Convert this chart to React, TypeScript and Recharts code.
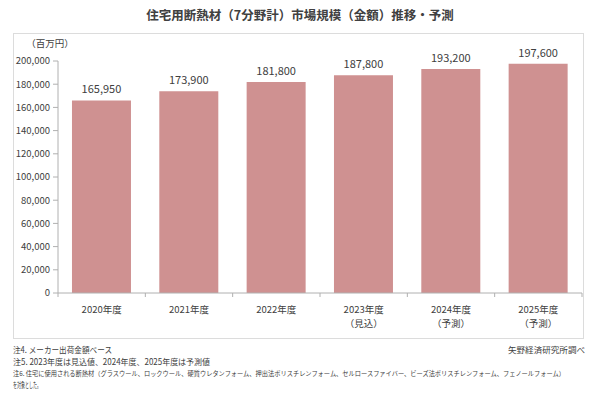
import { BarChart, Bar, XAxis, YAxis, LabelList } from "recharts";

const years = ["2020年度", "2021年度", "2022年度", "2023年度", "2024年度", "2025年度"];
const notes = ["", "", "", "（見込）", "（予測）", "（予測）"];
const sales = [165950, 173900, 181800, 187800, 193200, 197600];
const yTicks = [0, 20000, 40000, 60000, 80000, 100000, 120000, 140000, 160000, 180000, 200000];

const data = years.map((name, i) => ({ name, note: notes[i], sales: sales[i] }));

const FONT = "'Noto Sans CJK JP', 'Noto Sans', sans-serif";
const BAR = "#cf9191";
const TXT = "#404040";
const AXIS = "#b0b0b0";
const HALF_BAND = (582 - 58) / 12;

const fmt = (v: any) => Number(v).toLocaleString("en-US");

const XTick = (props: any) => {
  const { x, y, payload, index } = props;
  const note = notes[index];
  return (
    <g>
      <line x1={x - HALF_BAND} x2={x - HALF_BAND} y1={y - 8} y2={y - 4} stroke={AXIS} />
      {index === years.length - 1 && (
        <line x1={x + HALF_BAND} x2={x + HALF_BAND} y1={y - 8} y2={y - 4} stroke={AXIS} />
      )}
      <text x={x} y={y + 12} textAnchor="middle" fontSize={9.5} fill={TXT} fontFamily={FONT}>
        {payload.value}
      </text>
      {note && (
        <text x={x} y={y + 26} textAnchor="middle" fontSize={9.5} fill={TXT} fontFamily={FONT}>
          {note}
        </text>
      )}
    </g>
  );
};

const note4 = "注4. メーカー出荷金額ベース";
const note5 = "注5. 2023年度は見込値、2024年度、2025年度は予測値";
const note6 =
  "注6. 住宅に使用される断熱材（グラスウール、ロックウール、硬質ウレタンフォーム、押出法ポリスチレンフォーム、セルロースファイバー、ビーズ法ポリスチレンフォーム、フェノールフォーム）";
const note6b = "を対象とした。";
const source = "矢野経済研究所調べ";

const noteStyle = { fontSize: 8.5, fill: TXT, fontFamily: FONT };

export default function App() {
  return (
    <div style={{ position: "absolute", left: 0, top: 0, width: 600, height: 395, background: "#fff" }}>
      <div
        style={{
          position: "absolute",
          left: 13,
          top: 33,
          width: 571,
          height: 306,
          border: "1px solid #dcdcdc",
          boxSizing: "border-box",
        }}
      />
      <BarChart
        width={600}
        height={395}
        data={data}
        margin={{ top: 61, right: 18, left: 8, bottom: 62 }}
        barCategoryGap="16%"
        style={{ position: "absolute", left: 0, top: 0 }}
      >
        <text x={300} y={20} textAnchor="middle" fontSize={12.5} fontWeight="bold" fill={TXT} fontFamily={FONT}>
          住宅用断熱材（7分野計）市場規模（金額）推移・予測
        </text>
        <text x={50} y={47} textAnchor="middle" fontSize={9.5} fill={TXT} fontFamily={FONT}>
          （百万円）
        </text>
        <XAxis
          dataKey="name"
          tickLine={false}
          axisLine={{ stroke: AXIS }}
          tick={<XTick />}
          interval={0}
          height={40}
        />
        <YAxis
          width={50}
          domain={[0, 200000]}
          ticks={yTicks}
          tickFormatter={fmt}
          axisLine={{ stroke: AXIS }}
          tickLine={{ stroke: AXIS }}
          tickSize={5}
          tickMargin={3}
          tick={{ fontSize: 9.5, fill: TXT, fontFamily: FONT }}
        />
        <Bar dataKey="sales" fill={BAR} isAnimationActive={false}>
          <LabelList
            dataKey="sales"
            position="top"
            offset={7}
            formatter={fmt}
            style={{ fontSize: 11, fill: TXT, fontFamily: FONT }}
          />
        </Bar>
      </BarChart>
      <svg width={600} height={395} style={{ position: "absolute", left: 0, top: 0, pointerEvents: "none" }}>
        <text x={13} y={353} {...noteStyle} textLength={99} lengthAdjust="spacingAndGlyphs">
          {note4}
        </text>
        <text x={13} y={364.5} {...noteStyle} textLength={197} lengthAdjust="spacingAndGlyphs">
          {note5}
        </text>
        <text x={13} y={376} {...noteStyle} fontSize={6.5} textLength={552} lengthAdjust="spacingAndGlyphs">
          {note6}
        </text>
        <text x={13} y={387.5} {...noteStyle} textLength={28} lengthAdjust="spacingAndGlyphs">
          {note6b}
        </text>
        <text x={585} y={353} textAnchor="end" {...noteStyle} textLength={77} lengthAdjust="spacingAndGlyphs">
          {source}
        </text>
      </svg>
    </div>
  );
}
